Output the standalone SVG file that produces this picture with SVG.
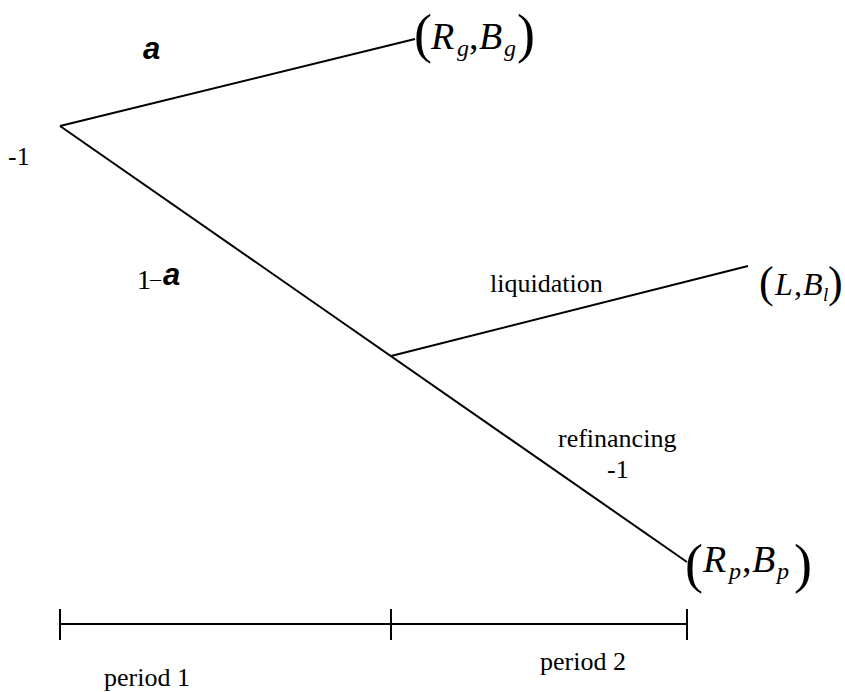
<svg xmlns="http://www.w3.org/2000/svg" width="845" height="692" viewBox="0 0 845 692">
<style>
.ln{stroke:#000;stroke-width:2;fill:none}
.t{font-family:"Liberation Serif","Times New Roman",serif;font-size:26px;fill:#000}
.m{font-family:"Liberation Serif","Times New Roman",serif;font-style:italic;font-size:38px;fill:#000}
.ms{font-family:"Liberation Serif","Times New Roman",serif;font-style:italic;font-size:24px;fill:#000}
.c{font-family:"Liberation Serif","Times New Roman",serif;font-size:38px;fill:#000}
.p{font-family:"Liberation Serif","Times New Roman",serif;font-size:54px;fill:#000}
.a{font-family:"Liberation Sans",Arial,sans-serif;font-weight:bold;font-style:italic;font-size:31px;fill:#000}
</style>
<rect width="845" height="692" fill="#fff"/>
<g id="connectors">
<line class="ln" x1="60" y1="126" x2="415" y2="39"/>
<line class="ln" x1="60" y1="126" x2="687" y2="562"/>
<line class="ln" x1="391" y1="356" x2="748" y2="266"/>
</g>
<g id="timeline">
<line class="ln" x1="60" y1="624" x2="687" y2="624"/>
<line class="ln" x1="60" y1="609" x2="60" y2="640"/>
<line class="ln" x1="391" y1="609" x2="391" y2="640"/>
<line class="ln" x1="687" y1="609" x2="687" y2="640"/>
<text class="t" x="104" y="686">period 1</text>
<text class="t" x="540" y="670">period 2</text>
</g>
<g id="root">
<text class="t" x="8" y="165">-1</text>
</g>
<g id="prob-labels">
<text class="a" x="143" y="59">a</text>
<text class="t" x="137" y="289" style="font-size:28px">1</text>
<text class="t" x="150" y="286" style="font-size:22px">–</text>
<text class="a" x="163" y="285">a</text>
</g>
<g id="node-good">
<text class="p" x="414" y="52">(</text>
<text class="m" x="431" y="49">R</text>
<text class="ms" x="457" y="56">g</text>
<text class="c" x="469" y="49">,</text>
<text class="m" x="479" y="49">B</text>
<text class="ms" x="504" y="56">g</text>
<text class="p" x="517" y="52">)</text>
</g>
<g id="node-liquidation">
<text class="t" x="490" y="292">liquidation</text>
<text class="p" x="759" y="297" style="font-size:44px">(</text>
<text class="m" x="775" y="295" style="font-size:32px">L</text>
<text class="c" x="794" y="295" style="font-size:32px">,</text>
<text class="m" x="803" y="295" style="font-size:32px">B</text>
<text class="ms" x="823" y="301" style="font-size:19px">l</text>
<text class="p" x="828" y="297" style="font-size:44px">)</text>
</g>
<g id="node-refinancing">
<text class="t" x="558" y="447">refinancing</text>
<text class="t" x="607" y="478">-1</text>
<text class="p" x="685" y="582">(</text>
<text class="m" x="703" y="572">R</text>
<text class="ms" x="729" y="579">p</text>
<text class="c" x="742" y="572">,</text>
<text class="m" x="752" y="572">B</text>
<text class="ms" x="777" y="579">p</text>
<text class="p" x="794" y="582">)</text>
</g>
</svg>
